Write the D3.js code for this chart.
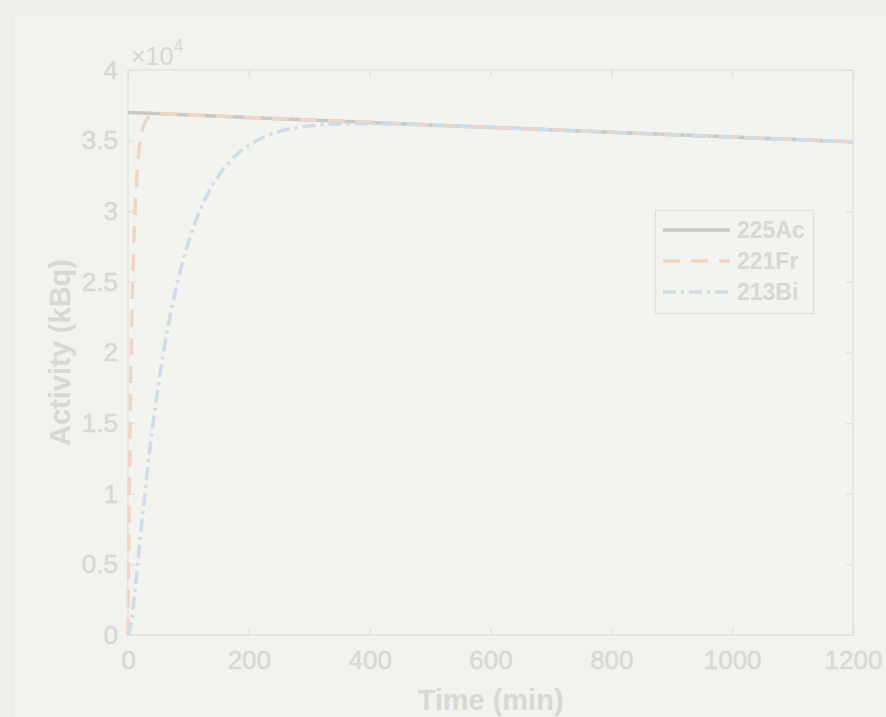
<!DOCTYPE html>
<html><head><meta charset="utf-8">
<script src="https://cdn.jsdelivr.net/npm/d3@7/dist/d3.min.js"></script>
<style>
html,body{margin:0;padding:0;background:#efefeb;}
svg{display:block;font-family:Arial,"Liberation Sans",Helvetica,sans-serif;}
</style></head>
<body>
<svg id="chart" width="886" height="717"></svg>
<script>
// ---- data ----
const seriesNames = ["225Ac", "221Fr", "213Bi"];
const acTime = [0, 200, 400, 600, 800, 1000, 1200];
const acValues = [37000, 36643, 36289, 35939, 35592, 35248, 34908];
const frTime = [0, 1, 2, 3, 4, 5, 6, 8, 10, 12, 15, 20, 25, 30, 40, 60, 100, 200, 400, 600, 800, 1000, 1200];
const frValues = [0, 4962, 9257, 12979, 16201, 18988, 21404, 25306, 28220, 30414, 32710, 34890, 35945, 36455, 36812, 36892, 36821, 36643, 36289, 35939, 35592, 35248, 34908];
const biTime = [0, 5, 10, 15, 20, 30, 40, 50, 60, 75, 90, 100, 120, 150, 180, 200, 250, 300, 350, 400, 500, 600, 800, 1000, 1200];
const biValues = [0, 789, 2499, 4570, 6720, 10838, 14492, 17650, 20324, 23684, 26352, 27818, 30147, 32530, 34021, 34685, 35640, 36040, 36179, 36196, 36093, 35935, 35592, 35248, 34908];
const xTicks = [0, 200, 400, 600, 800, 1000, 1200];
const yTicks = [0, 5000, 10000, 15000, 20000, 25000, 30000, 35000, 40000];
const yTickLabels = ["0", "0.5", "1", "1.5", "2", "2.5", "3", "3.5", "4"];

// ---- layout ----
const svg = d3.select("#chart");
const L = 128, R = 853, T = 70, B = 635;
const axisCol = "#dfdfdb", textCol = "#d8d8d4";
const colors = {"225Ac": "#c8c8c4", "221Fr": "#f1d6c6", "213Bi": "#cfdde9"};
const dashes = {"225Ac": null, "221Fr": "17,11", "213Bi": "13,5,3,5"};

svg.append("rect").attr("x", 0).attr("y", 0).attr("width", 886).attr("height", 717).attr("fill", "#efefeb");
svg.append("rect").attr("x", 13.5).attr("y", 15.5).attr("width", 880).attr("height", 710)
  .attr("fill", "#f2f2ee").attr("stroke", "#ebebe7").attr("stroke-width", 1);

const x = d3.scaleLinear().domain([0, 1200]).range([L, R]);
const y = d3.scaleLinear().domain([0, 40000]).range([B, T]);

// axes box
svg.append("rect").attr("x", L).attr("y", T).attr("width", R - L).attr("height", B - T)
  .attr("fill", "#f3f3ef").attr("stroke", axisCol).attr("stroke-width", 1.2);

function styleAxis(g) {
  g.select(".domain").remove();
  g.selectAll(".tick line").attr("stroke", axisCol).attr("stroke-width", 1.2);
  g.selectAll(".tick text").attr("fill", textCol).attr("font-size", 26)
    .attr("font-family", "Arial, 'Liberation Sans', sans-serif")
    .attr("stroke", textCol).attr("stroke-width", 0.4);
}
const tl = 7;
svg.append("g").attr("transform", `translate(0,${B})`)
  .call(d3.axisBottom(x).tickValues(xTicks).tickSize(-tl).tickPadding(16).tickFormat(d3.format("d")))
  .call(styleAxis);
svg.append("g").attr("transform", `translate(0,${T})`)
  .call(d3.axisTop(x).tickValues(xTicks).tickSize(-tl).tickFormat(""))
  .call(styleAxis);
svg.append("g").attr("transform", `translate(${L},0)`)
  .call(d3.axisLeft(y).tickValues(yTicks).tickSize(-tl).tickPadding(10).tickFormat((d, i) => yTickLabels[i]))
  .call(styleAxis);
svg.append("g").attr("transform", `translate(${R},0)`)
  .call(d3.axisRight(y).tickValues(yTicks).tickSize(-tl).tickFormat(""))
  .call(styleAxis);

// exponent
const ex = svg.append("text").attr("x", 131).attr("y", 65).attr("fill", textCol).attr("font-size", 25);
ex.append("tspan").text("\u00d710");
ex.append("tspan").attr("dy", -13).attr("font-size", 18).text("4");

// lines
const lineGen = d3.line().x(d => x(d[0])).y(d => y(d[1])).curve(d3.curveMonotoneX);
const series = [
  {name: "225Ac", data: acTime.map((t, i) => [t, acValues[i]])},
  {name: "221Fr", data: frTime.map((t, i) => [t, frValues[i]])},
  {name: "213Bi", data: biTime.map((t, i) => [t, biValues[i]])}
];
series.forEach(s => {
  svg.append("path").datum(s.data).attr("d", lineGen)
    .attr("fill", "none").attr("stroke", colors[s.name]).attr("stroke-width", 3.5)
    .attr("stroke-dasharray", dashes[s.name]);
});

// axis titles
svg.append("text").attr("x", x(600)).attr("y", 710).attr("text-anchor", "middle")
  .attr("fill", textCol).attr("font-size", 29).attr("font-weight", "bold").text("Time (min)");
svg.append("text").attr("transform", `translate(70,${(T + B) / 2}) rotate(-90)`).attr("text-anchor", "middle")
  .attr("fill", textCol).attr("font-size", 29).attr("font-weight", "bold").text("Activity (kBq)");

// legend
const lg = svg.append("g");
lg.append("rect").attr("x", 655.5).attr("y", 210.5).attr("width", 158).attr("height", 103)
  .attr("fill", "#f3f3ef").attr("stroke", axisCol).attr("stroke-width", 1.2);
seriesNames.forEach((n, i) => {
  const yy = 230 + i * 31;
  lg.append("line").attr("x1", 663).attr("x2", 730).attr("y1", yy).attr("y2", yy)
    .attr("stroke", colors[n]).attr("stroke-width", 3.5).attr("stroke-dasharray", dashes[n]);
  lg.append("text").attr("x", 737).attr("y", yy + 8).attr("fill", textCol)
    .attr("font-size", 23).attr("font-weight", "bold").text(n);
});
</script>
</body></html>
